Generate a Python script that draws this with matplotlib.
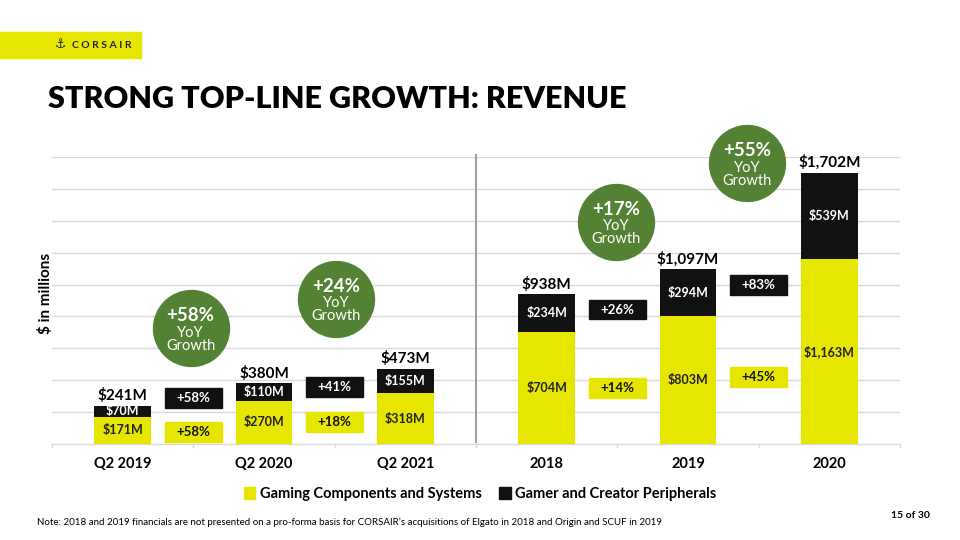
import matplotlib
matplotlib.use("Agg")
import matplotlib.pyplot as plt
from matplotlib.patches import Rectangle, Patch
import numpy as np

plt.rcParams['font.family'] = ['Lato', 'DejaVu Sans']

categories = ["Q2 2019", "Q2 2020", "Q2 2021", "2018", "2019", "2020"]
gaming = [171, 270, 318, 704, 803, 1163]
peripherals = [70, 110, 155, 234, 294, 539]
totals = ["$241M", "$380M", "$473M", "$938M", "$1,097M", "$1,702M"]
gaming_labels = ["$171M", "$270M", "$318M", "$704M", "$803M", "$1,163M"]
periph_labels = ["$70M", "$110M", "$155M", "$234M", "$294M", "$539M"]

# segment growth between consecutive bars
seg_growth_periph = ["+58%", "+41%", None, "+26%", "+83%"]
seg_growth_gaming = ["+58%", "+18%", None, "+14%", "+45%"]
# total growth bubbles
bubble_labels = ["+58%", "+24%", "+17%", "+55%"]

# layout (positions of annotation boxes / bubbles, in data units)
periph_box_bottom = [225, 294, None, 781, 937]
gaming_box_bottom = [12, 75, None, 287, 356]
box_height = 125
bubble_x = [0.48, 1.51, 3.49, 4.42]
bubble_y = [725, 912, 1394, 1762]

YELLOW = "#E6E600"
BLACK = "#111111"
GREEN = "#548235"

fig = plt.figure(figsize=(9.6, 5.4), dpi=100)
ax = fig.add_axes([52/960, 1-444/540, 848/960, (444-157)/540])
x = np.arange(len(categories))
w = 0.4
ax.bar(x, gaming, w, color=YELLOW, zorder=3)
ax.bar(x, peripherals, w, bottom=gaming, color=BLACK, zorder=3)

ax.set_xlim(-0.5, 5.5)
ax.set_ylim(0, 1800)
ax.set_yticks(np.arange(0, 1801, 200))
ax.yaxis.grid(True, color="#d9d9d9", lw=1.0, zorder=0)
ax.set_yticklabels([])
ax.tick_params(axis='y', length=0)
for s in ["top", "right", "left"]:
    ax.spines[s].set_visible(False)
ax.spines["bottom"].set_color("#d9d9d9")
ax.set_xticks(x)
ax.set_xticklabels(categories, fontsize=10.5, fontweight='bold')
ax.tick_params(axis='x', length=0, pad=9)
for b in np.arange(-0.5, 6, 1.0):
    ax.plot([b, b], [0, -18], color="#d9d9d9", lw=1, clip_on=False)
# divider
ax.plot([2.5, 2.5], [10, 1810], color="#a0a0a0", lw=1.5, clip_on=False, zorder=2)

for i in range(len(categories)):
    t = gaming[i] + peripherals[i]
    ax.text(x[i], t + 15, totals[i], ha='center', va='bottom', fontsize=11, fontweight='bold', zorder=5)
    ax.text(x[i], gaming[i] / 2, gaming_labels[i], ha='center', va='center', fontsize=9, fontweight='bold', color='#222', zorder=5)
    ax.text(x[i], gaming[i] + peripherals[i] / 2, periph_labels[i], ha='center', va='center', fontsize=9, fontweight='bold', color='white', zorder=5)

for i in range(5):
    if seg_growth_periph[i] is None:
        continue
    xc = i + 0.5
    ax.add_patch(Rectangle((xc - w/2, periph_box_bottom[i]), w, box_height, color=BLACK, zorder=3))
    ax.text(xc, periph_box_bottom[i] + box_height/2, seg_growth_periph[i], ha='center', va='center',
            color='white', fontsize=9.5, fontweight='bold', zorder=5)
    ax.add_patch(Rectangle((xc - w/2, gaming_box_bottom[i]), w, box_height, color=YELLOW, zorder=3))
    ax.text(xc, gaming_box_bottom[i] + box_height/2, seg_growth_gaming[i], ha='center', va='center',
            color=BLACK, fontsize=9.5, fontweight='bold', zorder=5)

ax.scatter(bubble_x, bubble_y, s=3100, color=GREEN, zorder=4, clip_on=False, linewidths=0)
for bx, by, lab in zip(bubble_x, bubble_y, bubble_labels):
    ax.annotate(lab, (bx, by), xytext=(0, 9), textcoords='offset points', ha='center', va='center',
                color='white', fontsize=13.5, fontweight='bold', zorder=6, annotation_clip=False)
    ax.annotate("YoY\nGrowth", (bx, by), xytext=(0, -8), textcoords='offset points', ha='center', va='center',
                color='white', fontsize=10.5, linespacing=0.9, zorder=6, annotation_clip=False)

fig.text(45/960, 1-293/540, "$ in millions", rotation=90, ha='center', va='center', fontsize=11, fontweight='bold')

# header
fig.patches.append(Rectangle((0, 1-58/540), 141/960, 26/540, transform=fig.transFigure, color=YELLOW, zorder=1))
fig.text(72/960, 1-45/540, "C O R S A I R", ha='left', va='center', fontsize=7.5, color='#222', fontweight='bold')
fig.text(55/960, 1-45/540, "\u2693", ha='left', va='center', fontsize=9, color='#222', family=['DejaVu Sans'])
fig.text(48/960, 1-99/540, "STRONG TOP-LINE GROWTH: REVENUE", ha='left', va='center', fontsize=22, fontweight='heavy')

# legend
handles = [Patch(color=YELLOW, label="Gaming Components and Systems"),
           Patch(color=BLACK, label="Gamer and Creator Peripherals")]
leg = fig.legend(handles=handles, loc='center', bbox_to_anchor=(480/960, 1-494/540), ncol=2, frameon=False,
                 handlelength=0.8, handleheight=0.8, handletextpad=0.3, columnspacing=1.2,
                 prop={'weight': 'bold', 'size': 10.5})

fig.text(37/960, 1-522/540, "Note: 2018 and 2019 financials are not presented on a pro-forma basis for CORSAIR\u2019s acquisitions of Elgato in 2018 and Origin and SCUF in 2019",
         ha='left', va='center', fontsize=7)
fig.text(930/960, 1-515/540, "15 of 30", ha='right', va='center', fontsize=7.5, fontweight='bold')

fig.savefig("out.png", dpi=100)
